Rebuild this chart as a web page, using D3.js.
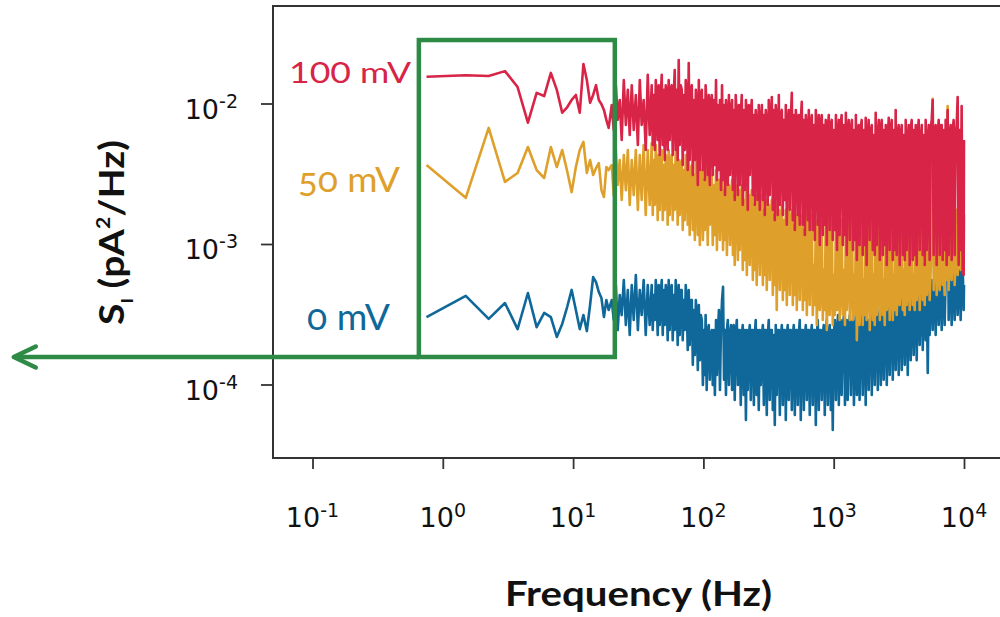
<!DOCTYPE html>
<html><head><meta charset="utf-8">
<script src="https://cdn.jsdelivr.net/npm/d3@7"></script>
<style>body{margin:0;background:#fff}svg{display:block}</style>
</head><body><svg id="chart" width="1000" height="617"></svg>
<script>
// Frequency bins (Hz)
const freqHz = [0.75,1.5,2.25,3,3.75,4.5,5.25,6,6.75,7.5,8.25,9,9.75,10.5,11.25,12,12.75,13.5,14.25,15,15.75,16.5,17.25,18,18.75,
19.8,20.5,21.3,22.0,22.8,23.6,24.5,25.4,26.3,27.2,
28.2,29.2,30.3,31.4,32.5,33.6,34.8,36.1,37.4,38.7,
40.1,40.85,41.6,42.35,43.1,43.85,44.6,45.4,46.2,47.05,
47.9,48.75,49.6,50.5,51.4,52.3,53.2,54.15,55.1,56.1,
57.1,58.15,59.2,60.25,61.3,62.4,63.5,64.65,65.8,67.0,
68.2,69.4,70.6,71.9,73.2,74.5,75.8,77.15,78.5,80.0,
81.5,82.95,84.4,85.95,87.5,89.05,90.6,92.25,93.9,95.6,
97.3,99.1,101,102.5,104,106,108,110,112,114,
116,118,120,122.5,125,127,129,131.5,134,136.5,
139,141.5,144,146.5,149,151.5,154,157,160,163,
166,168.5,171,174,177,180.5,184,187,190,193.5,
197,200.5,204,208,212,215.5,219,223,227,231,
235,239.5,244,248,252,256.5,261,266,271,276,
281,286,291,296,301,306.5,312,317.5,323,329,
335,341,347,353,359,365.5,372,379,386,393,
400,407,414,421.5,429,436.5,444,452,460,468.5,
477,485.5,494,503,512,521,530,539.5,549,559,
569,579.5,590,600.5,611,622,633,644,655,667,
679,691,703,716,729,742,755,768.5,782,796,
810,824.5,839,854,869,885,901,917,933,950,
967,983.5,1000,1020,1040,1060,1080,1095,1110,1130,
1150,1175,1200,1220,1240,1260,1280,1305,1330,1355,
1380,1405,1430,1455,1480,1505,1530,1555,1580,1610,
1640,1670,1700,1730,1760,1790,1820,1855,1890,1925,
1960,1995,2030,2065,2100,2140,2180,2220,2260,2300,
2340,2380,2420,2465,2510,2555,2600,2645,2690,2740,
2790,2840,2890,2940,2990,3045,3100,3155,3210,3270,
3330,3390,3450,3510,3570,3635,3700,3765,3830,3900,
3970,4040,4110,4185,4260,4335,4410,4490,4570,4655,
4740,4825,4910,4995,5080,5175,5270,5360,5450,5550,
5650,5750,5850,5955,6060,6170,6280,6395,6510,6625,
6740,6860,6980,7105,7230,7360,7490,7625,7760,7900,
8040,8185,8330,8480,8630,8785,8940,9100,9260,9425,
9590,9765,9940,10000];

// Current noise spectral density S_I, in units of 1e-3 pA^2/Hz
const S100mV = [15.5,15.9,15.7,17.0,13.1,7.3,11.9,11.3,16.5,12.5,8.6,9.4,10.6,11.5,8.6,19.1,14.7,10.1,11.5,13.5,10.6,9.9,9.0,7.64,6.7,
9.75,6.48,13.5,7.64,10.6,5.50,14.7,7.03,12.5,5.97,
13.5,6.48,11.5,5.07,14.7,7.03,10.6,4.67,16.0,5.97,
13.5,5.07,11.5,4.67,14.7,10.6,5.50,13.5,4.30,11.5,
16.0,5.07,12.5,3.96,13.5,11.5,4.67,14.7,5.50,12.5,
13.5,4.30,11.5,17.3,4.67,12.5,3.96,20.4,5.07,13.5,
12.5,3.65,11.5,4.67,14.7,10.6,3.36,19.4,3.96,12.5,
13.5,3.10,10.6,3.96,12.5,9.75,2.63,14.7,3.36,11.5,
12.5,3.36,10.6,2.86,13.5,9.0,3.10,11.5,2.63,9.75,
11.5,3.10,10.6,3.65,14.7,2.86,9.75,3.36,10.6,2.42,
13.5,2.86,9.75,2.23,10.6,8.28,2.63,11.5,3.10,9.0,
10.6,2.42,9.0,2.06,11.5,7.64,2.23,9.75,2.63,8.28,
11.5,1.90,9.0,2.42,10.6,7.64,1.75,9.75,3.10,8.28,
10.6,2.23,8.28,1.90,9.0,7.03,2.06,9.75,1.75,7.64,
9.75,2.06,8.28,1.61,9.0,7.03,1.90,10.6,2.23,7.64,
11.1,1.75,9.0,1.48,9.75,7.64,1.61,11.5,1.90,8.28,
9.0,1.61,7.64,2.06,9.75,1.37,7.03,9.0,1.75,7.64,
11.9,1.48,8.28,1.26,9.0,7.03,1.61,8.28,1.37,7.64,
10.3,1.37,7.64,1.16,8.28,6.48,1.48,9.0,1.26,7.03,
8.28,1.26,7.03,1.07,9.0,5.97,1.37,8.28,0.984,7.03,
8.28,1.16,7.03,1.37,7.64,0.984,6.48,8.28,1.26,7.03,
7.64,1.07,6.48,1.26,8.28,0.906,5.97,7.64,1.16,7.03,
8.28,0.984,7.03,1.16,8.6,0.835,5.97,7.64,1.07,6.48,
7.64,0.906,6.48,1.07,8.28,0.769,5.97,7.03,0.984,6.48,
7.64,0.835,6.48,0.984,7.9,0.709,5.50,7.64,1.07,6.48,
7.03,0.906,5.97,0.835,8.6,0.984,5.97,7.64,0.769,6.48,
7.64,0.835,6.48,0.984,7.03,0.709,5.50,7.9,0.906,6.48,
7.64,0.769,6.48,0.906,9.0,0.835,5.97,7.03,0.709,5.97,
7.03,0.835,5.97,0.769,7.64,0.906,5.50,7.03,0.709,6.48,
7.64,0.769,6.48,0.835,7.03,0.709,5.97,7.64,0.906,5.50,
7.03,0.835,5.97,0.709,7.64,0.906,5.50,7.03,0.769,6.48,
7.64,10.6,0.835,6.48,7.03,0.709,5.97,7.64,0.835,7.03,
7.03,0.769,6.48,0.906,7.64,0.709,9.0,0.835,5.97,7.03,
0.769,6.48,7.64,0.835,5.97,7.03,11.1,0.709,6.48,0.906,
9.6,0.653,0.601,5.50];

const S50mV = [3.65,2.13,6.7,2.77,3.20,4.90,3.36,2.95,4.90,3.53,4.67,3.31,2.34,3.53,4.67,5.33,3.20,3.96,3.10,3.47,3.77,2.42,2.16,3.53,3.36,
3.65,2.23,4.67,2.63,3.96,2.06,4.30,2.42,4.67,1.90,
3.96,2.23,4.67,1.75,4.30,2.06,5.07,1.61,4.67,1.90,
5.24,1.61,3.96,1.90,5.07,3.65,1.48,4.30,1.75,3.96,
4.67,1.48,3.65,1.75,4.30,3.96,1.37,4.67,1.61,3.65,
4.30,1.48,3.65,1.75,4.67,3.36,1.37,3.96,1.61,3.65,
3.96,1.26,3.36,1.48,4.30,3.10,1.37,3.96,1.16,3.36,
3.65,1.26,3.10,1.07,3.96,2.86,1.16,3.65,0.984,3.10,
3.36,1.07,2.86,1.26,3.65,2.63,0.984,3.10,1.37,2.86,
3.10,0.984,2.63,1.16,3.36,0.906,2.63,2.86,1.07,2.42,
3.10,0.906,2.42,1.07,2.86,0.835,2.42,2.63,0.984,2.23,
2.86,0.835,2.23,0.709,2.63,2.06,0.769,2.42,0.906,2.06,
2.63,0.653,2.06,0.769,2.42,0.601,1.90,2.23,0.709,1.90,
2.42,0.554,1.90,0.653,2.23,0.511,1.75,2.06,0.601,1.75,
2.23,0.511,1.75,0.601,2.06,0.471,1.61,1.90,0.554,1.61,
2.06,0.434,1.61,0.511,1.90,0.339,1.48,1.75,0.471,1.48,
1.90,0.399,1.48,0.471,1.75,0.368,1.37,1.90,0.434,1.37,
1.75,0.368,1.37,0.434,1.61,0.339,1.26,1.75,0.399,1.37,
1.61,0.339,1.26,0.399,1.75,0.312,1.16,1.61,0.368,1.26,
1.61,0.312,0.709,0.368,1.48,0.265,0.601,1.61,0.339,0.554,
1.48,0.288,0.653,0.339,1.61,0.244,0.554,1.48,0.312,0.511,
1.61,0.265,0.601,0.312,1.48,0.339,0.511,1.61,0.288,0.471,
1.48,0.312,0.653,0.265,1.61,0.339,0.554,1.48,0.288,0.511,
1.61,0.288,0.601,0.312,1.48,0.207,0.511,1.61,0.265,0.471,
1.48,0.265,0.554,0.312,1.61,0.288,0.471,1.48,0.244,0.511,
1.61,0.288,0.601,0.265,1.48,0.312,0.511,1.61,0.288,0.471,
1.48,0.312,0.554,0.265,1.61,0.339,0.471,1.48,0.288,0.511,
1.61,0.288,0.601,0.339,1.48,0.312,0.511,1.61,0.368,0.554,
1.48,0.339,0.653,0.312,1.61,0.368,0.511,1.48,0.339,0.601,
1.61,0.368,0.601,0.339,1.48,0.399,0.554,1.61,0.339,0.653,
1.48,0.399,0.709,0.368,1.61,0.434,0.601,1.48,0.399,0.653,
1.61,10.8,0.471,0.835,1.61,0.434,0.653,1.75,0.471,0.769,
1.61,0.511,0.835,0.434,1.75,0.554,9.6,0.471,0.906,1.75,
0.554,0.984,1.90,0.511,0.906,1.75,0.601,1.07,1.90,0.653,
1.75,0.709,0.653,1.61];

const S0mV = [0.302,0.427,0.293,0.380,0.248,0.448,0.256,0.323,0.302,0.218,0.270,0.356,0.471,0.339,0.248,0.312,0.240,0.368,0.582,0.536,0.455,0.413,0.302,0.399,0.339,
0.399,0.288,0.511,0.244,0.434,0.312,0.554,0.265,0.471,0.225,
0.511,0.288,0.601,0.244,0.471,0.312,0.554,0.225,0.511,0.265,
0.511,0.244,0.434,0.288,0.554,0.399,0.225,0.511,0.265,0.434,
0.554,0.225,0.471,0.265,0.511,0.434,0.207,0.554,0.244,0.471,
0.511,0.207,0.434,0.244,0.554,0.399,0.191,0.511,0.225,0.471,
0.471,0.207,0.399,0.244,0.511,0.368,0.176,0.471,0.191,0.399,
0.399,0.138,0.339,0.162,0.399,0.312,0.127,0.368,0.149,0.312,
0.288,0.0993,0.244,0.117,0.312,0.0914,0.244,0.265,0.108,0.225,
0.244,0.0993,0.244,0.0842,0.288,0.117,0.225,0.339,0.0914,0.265,
0.399,0.495,0.108,0.244,0.0842,0.244,0.288,0.0993,0.225,0.265,
0.0914,0.244,0.265,0.0776,0.225,0.288,0.0993,0.244,0.244,0.0715,
0.225,0.265,0.0842,0.244,0.0559,0.244,0.0914,0.225,0.265,0.0776,
0.244,0.244,0.0715,0.225,0.288,0.0842,0.244,0.0659,0.244,0.0993,
0.225,0.265,0.0715,0.244,0.244,0.0607,0.225,0.288,0.0776,0.244,
0.244,0.0659,0.225,0.0515,0.265,0.0842,0.244,0.244,0.0607,0.225,
0.265,0.0715,0.244,0.244,0.0559,0.225,0.265,0.0776,0.244,0.244,
0.0659,0.225,0.265,0.0607,0.244,0.244,0.0715,0.225,0.288,0.0559,
0.244,0.244,0.0659,0.225,0.265,0.0776,0.244,0.244,0.0607,0.225,
0.265,0.0715,0.244,0.244,0.0515,0.225,0.288,0.0659,0.244,0.244,
0.0776,0.225,0.265,0.0607,0.244,0.288,0.0715,0.225,0.265,0.0659,
0.244,0.0474,0.225,0.288,0.0776,0.244,0.312,0.0715,0.225,0.288,
0.0842,0.265,0.312,0.0715,0.244,0.288,0.0776,0.265,0.312,0.0842,
0.265,0.288,0.0715,0.244,0.312,0.0842,0.265,0.288,0.0776,0.265,
0.312,0.0842,0.265,0.339,0.0715,0.265,0.288,0.0914,0.288,0.312,
0.0842,0.288,0.339,0.0993,0.288,0.368,0.0914,0.288,0.339,0.0993,
0.312,0.368,0.108,0.312,0.399,0.0993,0.312,0.368,0.117,0.339,
0.399,0.108,0.339,0.368,0.127,0.339,0.399,0.117,0.339,0.434,
0.127,0.339,0.399,0.138,0.368,0.434,0.117,0.368,0.399,0.149,
0.399,0.471,0.162,0.399,0.511,0.149,0.434,0.471,0.191,0.434,
0.511,0.176,0.434,0.554,0.207,0.471,0.121,0.511,0.225,0.471,
0.554,0.244,0.511,0.601,0.225,0.511,0.554,0.265,0.511,0.601,
0.244,0.554,0.601,0.265,0.554,0.554,8.70,0.288,0.554,0.653,
0.265,0.601,0.653,0.288,0.601,0.709,0.312,0.653,0.653,0.288,
0.601,0.709,0.339,0.511];

const VALUE_UNIT = 1e-3;
const xTickExps = [-1, 0, 1, 2, 3, 4];
const yTickExps = [-2, -3, -4];
const seriesNames = ["0 mV", "50 mV", "100 mV"];
const seriesColors = ["#0f6899", "#dea02a", "#d72447"];
// Highlighted low-frequency window (annotation)
const boxFreqHz = [0.655, 20.9];
const boxS = [1.57e-4, 2.83e-2];
const arrowTipHz = 5.1e-4;

const svg = d3.select("#chart");
svg.append("rect").attr("width", 1000).attr("height", 617).attr("fill", "#fff");

const x = d3.scaleLog().domain([1e-1, 1e4]).range([312.5, 964]);
const y = d3.scaleLog().domain([1e-2, 1e-4]).range([103.5, 384.5]);

const plotL = 273, plotT = 6, plotB = 458;

// frame (open on the right, cropped)
svg.append("path")
  .attr("d", `M1005,${plotT}H${plotL}V${plotB}H1005`)
  .attr("fill", "none").attr("stroke", "#333").attr("stroke-width", 2);

// axes ticks
const gx = svg.append("g").attr("transform", `translate(0,${plotB + 1})`)
  .call(d3.axisBottom(x).tickValues(xTickExps.map(e => Math.pow(10, e))).tickSize(10).tickFormat(""));
const gy = svg.append("g").attr("transform", `translate(${plotL - 1},0)`)
  .call(d3.axisLeft(y).tickValues(yTickExps.map(e => Math.pow(10, e))).tickSize(11).tickFormat(""));
[gx, gy].forEach(g => {
  g.select(".domain").remove();
  g.selectAll(".tick line").attr("stroke", "#333").attr("stroke-width", 1.8);
});

const tickFont = "'DejaVu Sans', sans-serif";
xTickExps.forEach(e => {
  const t = svg.append("text").attr("x", x(Math.pow(10, e))).attr("y", 527)
    .attr("text-anchor", "middle").attr("font-family", tickFont).attr("font-size", 27).attr("fill", "#111");
  t.append("tspan").text("10");
  t.append("tspan").attr("font-size", 19).attr("dy", -10).text(String(e));
});
yTickExps.forEach(e => {
  const t = svg.append("text").attr("x", 238).attr("y", y(Math.pow(10, e)) + 15)
    .attr("text-anchor", "end").attr("font-family", tickFont).attr("font-size", 27).attr("fill", "#111");
  t.append("tspan").text("10");
  t.append("tspan").attr("font-size", 19).attr("dy", -11).text(String(e));
});

// axis titles
svg.append("text").attr("x", 638.5).attr("y", 606).attr("text-anchor", "middle")
  .attr("font-family", "Lato, sans-serif").attr("font-weight", "bold").attr("font-size", 35)
  .attr("textLength", 267).attr("lengthAdjust", "spacingAndGlyphs").attr("fill", "#111")
  .text("Frequency (Hz)");

const yt = svg.append("text").attr("transform", "translate(124,232.5) rotate(-90)")
  .attr("text-anchor", "middle").attr("font-family", "Lato, sans-serif").attr("font-weight", "bold")
  .attr("font-size", 35).attr("fill", "#111").attr("textLength", 185).attr("lengthAdjust", "spacingAndGlyphs");
yt.append("tspan").text("S");
yt.append("tspan").attr("font-size", 17).attr("dy", 9).text("I");
yt.append("tspan").attr("dy", -9).text(" (pA");
yt.append("tspan").attr("font-size", 19).attr("dy", -14).text("2");
yt.append("tspan").attr("dy", 14).text("/Hz)");

// spectra
const seriesValues = [S0mV, S50mV, S100mV];
const line = d3.line().x(d => x(d[0])).y(d => y(d[1] * VALUE_UNIT));
seriesValues.forEach((vals, i) => {
  const n = Math.min(freqHz.length, vals.length);
  const pts = freqHz.slice(0, n).map((f, j) => [f, vals[j]]);
  svg.append("path").datum(pts).attr("d", line)
    .attr("fill", "none").attr("stroke", seriesColors[i]).attr("stroke-width", 2.6)
    .attr("stroke-linejoin", "round").attr("stroke-linecap", "butt");
});

// series labels
const labelSpecs = [
  {i: 2, x: 289, y: 82.5, size: 28, len: 122, onum: false},
  {i: 1, x: 298, y: 192, size: 35, len: 102, onum: true},
  {i: 0, x: 307, y: 330, size: 37, len: 83, onum: true}
];
labelSpecs.forEach(s => {
  svg.append("text").attr("x", s.x).attr("y", s.y)
    .attr("font-family", "Lato, sans-serif").attr("font-size", s.size)
    .attr("fill", seriesColors[s.i]).attr("textLength", s.len).attr("lengthAdjust", "spacingAndGlyphs")
    .style("font-feature-settings", s.onum ? "'onum' 1" : "normal")
    .text(seriesNames[s.i]);
});

// green annotation box and arrow
const green = "#2e8b46";
const bx0 = x(boxFreqHz[0]), bx1 = x(boxFreqHz[1]);
const by0 = y(boxS[1]), by1 = y(boxS[0]);
svg.append("rect").attr("x", bx0).attr("y", by0).attr("width", bx1 - bx0).attr("height", by1 - by0)
  .attr("fill", "none").attr("stroke", green).attr("stroke-width", 4.5);
const ax = x(arrowTipHz);
svg.append("path").attr("d", `M${bx0},${by1}H${ax + 1}`)
  .attr("fill", "none").attr("stroke", green).attr("stroke-width", 4.5);
svg.append("path").attr("d", `M${ax + 22},${by1 - 10.5}L${ax},${by1}L${ax + 22},${by1 + 10.5}`)
  .attr("fill", "none").attr("stroke", green).attr("stroke-width", 4.5)
  .attr("stroke-linecap", "round").attr("stroke-linejoin", "round");
</script></body></html>
